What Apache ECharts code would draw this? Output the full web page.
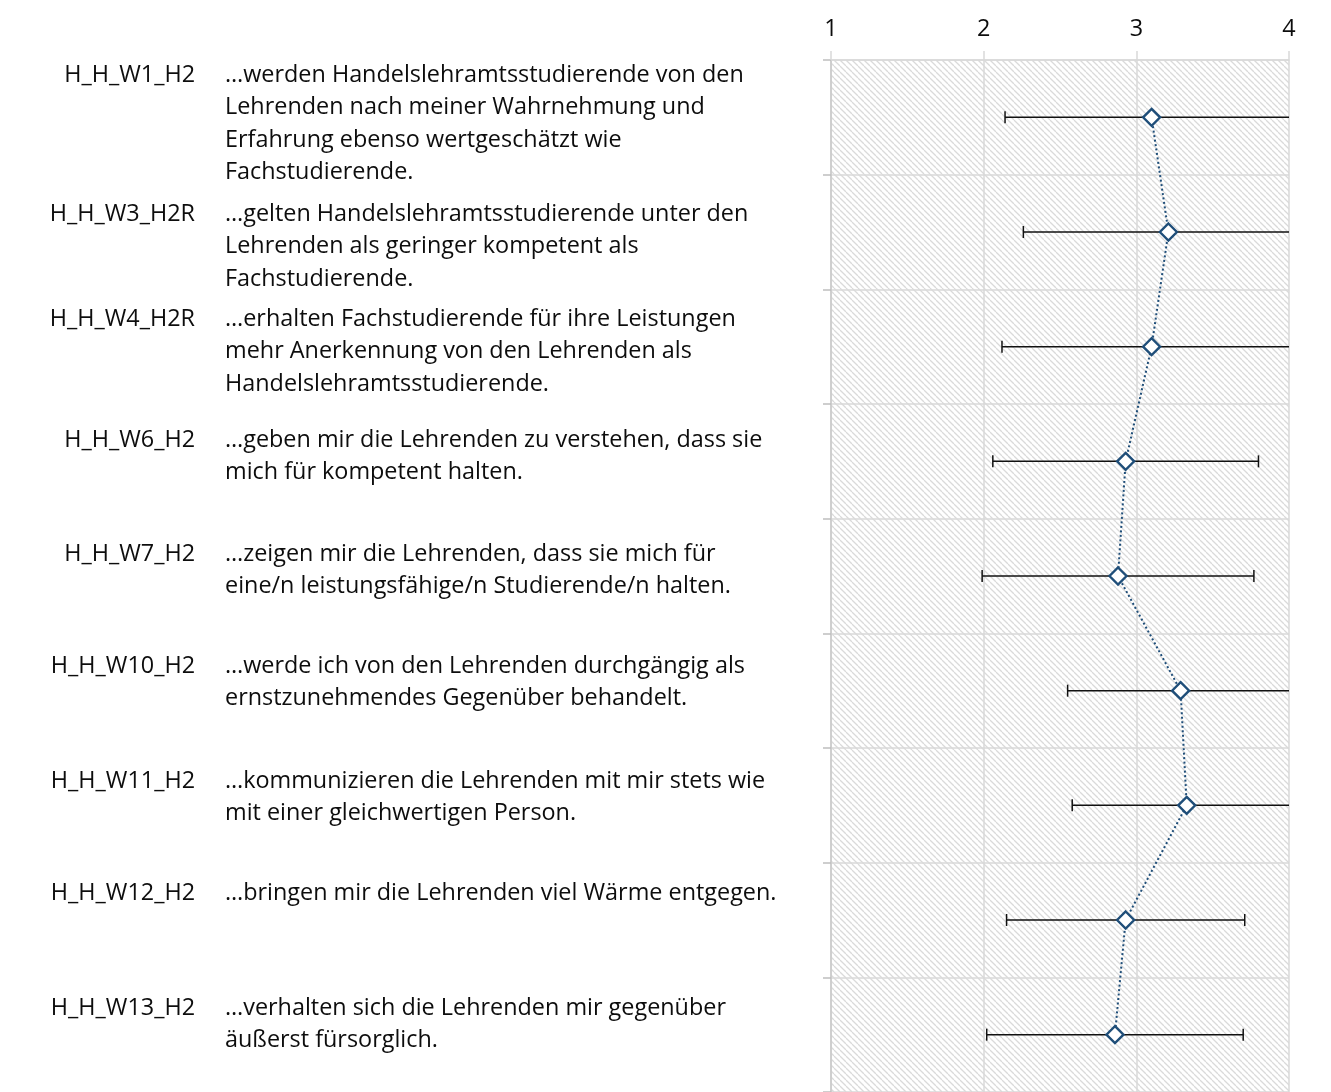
<!DOCTYPE html>
<html>
<head>
<meta charset="utf-8">
<title>Wertschätzung durch Lehrende</title>
<script src="https://cdn.jsdelivr.net/npm/echarts@6/dist/echarts.min.js"></script>
<style>
  html, body { margin: 0; padding: 0; background: #ffffff; }
  #chart { width: 1331px; height: 1092px; }
</style>
</head>
<body>
<div id="chart"></div>
<script>
// Item codes (one per row, top to bottom)
const categories = [
  'H_H_W1_H2', 'H_H_W3_H2R', 'H_H_W4_H2R', 'H_H_W6_H2', 'H_H_W7_H2',
  'H_H_W10_H2', 'H_H_W11_H2', 'H_H_W12_H2', 'H_H_W13_H2'
];

// Item wording, with the original line breaks
const statements = [
  '…werden Handelslehramtsstudierende von den\nLehrenden nach meiner Wahrnehmung und\nErfahrung ebenso wertgeschätzt wie\nFachstudierende.',
  '…gelten Handelslehramtsstudierende unter den\nLehrenden als geringer kompetent als\nFachstudierende.',
  '…erhalten Fachstudierende für ihre Leistungen\nmehr Anerkennung von den Lehrenden als\nHandelslehramtsstudierende.',
  '…geben mir die Lehrenden zu verstehen, dass sie\nmich für kompetent halten.',
  '…zeigen mir die Lehrenden, dass sie mich für\neine/n leistungsfähige/n Studierende/n halten.',
  '…werde ich von den Lehrenden durchgängig als\nernstzunehmendes Gegenüber behandelt.',
  '…kommunizieren die Lehrenden mit mir stets wie\nmit einer gleichwertigen Person.',
  '…bringen mir die Lehrenden viel Wärme entgegen.',
  '…verhalten sich die Lehrenden mir gegenüber\näußerst fürsorglich.'
];

// Mean and standard deviation per item
const means = [3.10, 3.21, 3.10, 2.93, 2.88, 3.29, 3.33, 2.93, 2.86];
const sds   = [0.96, 0.95, 0.98, 0.87, 0.89, 0.74, 0.75, 0.78, 0.84];

// Scale ticks
const xTicks = [1, 2, 3, 4];

// ---------- layout ----------
const FONT = '"Open Sans", "Noto Sans", sans-serif';
const FONT_SIZE = 23.4;
const LINE_H = 32.5;
const CODE_RIGHT_X = 195;
const TEXT_LEFT_X = 225;
// vertical centre of the first text line of each item block
const firstLineY = [75, 214, 319, 440, 554, 666, 781, 893, 1008];

const GRID_COLOR = '#d9d9d9';
const MARK_COLOR = '#1f4e79';

// light diagonal hatch used as plot background
function makeHatch() {
  const s = 6;
  const c = document.createElement('canvas');
  c.width = s; c.height = s;
  const ctx = c.getContext('2d');
  ctx.fillStyle = '#ffffff';
  ctx.fillRect(0, 0, s, s);
  ctx.strokeStyle = '#dadada';
  ctx.lineWidth = 1.25;
  for (const off of [-s, 0, s]) {
    ctx.beginPath();
    ctx.moveTo(off, 0);
    ctx.lineTo(off + s, s);
    ctx.stroke();
  }
  return { image: c, repeat: 'repeat' };
}

const chart = echarts.init(document.getElementById('chart'), null, { renderer: 'canvas' });

const textGraphics = [];
categories.forEach((code, i) => {
  const top = firstLineY[i] - LINE_H / 2;
  textGraphics.push({
    type: 'text',
    silent: true,
    style: {
      text: code, x: CODE_RIGHT_X, y: top,
      align: 'right', verticalAlign: 'top',
      font: FONT_SIZE + 'px ' + FONT, lineHeight: LINE_H, fill: '#0d0d0d'
    }
  });
  textGraphics.push({
    type: 'text',
    silent: true,
    style: {
      text: statements[i], x: TEXT_LEFT_X, y: top,
      align: 'left', verticalAlign: 'top',
      font: FONT_SIZE + 'px ' + FONT, lineHeight: LINE_H, fill: '#0d0d0d'
    }
  });
});

// horizontal error bar (mean ± sd), clipped at the plot edge
function renderErrorBar(params, api) {
  const m = api.value(0);
  const idx = api.value(1);
  const sd = api.value(2);
  const lo = api.coord([m - sd, idx]);
  const hi = api.coord([m + sd, idx]);
  const cs = params.coordSys;
  const xMin = cs.x, xMax = cs.x + cs.width;
  const x1 = Math.max(lo[0], xMin);
  const x2 = Math.min(hi[0], xMax);
  const y = lo[1];
  const capH = 6;
  const style = { stroke: '#111111', lineWidth: 1.5 };
  const children = [{
    type: 'line', shape: { x1: x1, y1: y, x2: x2, y2: y }, style: style
  }];
  if (lo[0] >= xMin) {
    children.push({ type: 'line', shape: { x1: lo[0], y1: y - capH, x2: lo[0], y2: y + capH }, style: style });
  }
  if (hi[0] <= xMax) {
    children.push({ type: 'line', shape: { x1: hi[0], y1: y - capH, x2: hi[0], y2: y + capH }, style: style });
  }
  return { type: 'group', children: children };
}

const option = {
  backgroundColor: '#ffffff',
  animation: false,
  textStyle: { fontFamily: FONT },
  grid: { left: 831, right: 42, top: 60, bottom: -7.5, containLabel: false },
  xAxis: {
    type: 'value',
    position: 'top',
    min: xTicks[0],
    max: xTicks[xTicks.length - 1],
    interval: 1,
    axisLine: { show: true, lineStyle: { color: GRID_COLOR, width: 1.5 } },
    axisTick: { show: true, length: 9, lineStyle: { color: GRID_COLOR, width: 1.5 } },
    axisLabel: { margin: 19, fontSize: FONT_SIZE, color: '#0d0d0d', fontFamily: FONT },
    splitLine: { show: true, lineStyle: { color: GRID_COLOR, width: 1.5 } }
  },
  yAxis: {
    type: 'category',
    inverse: true,
    data: categories,
    boundaryGap: true,
    axisLine: { show: true, lineStyle: { color: '#c8c8c8', width: 1.5 } },
    axisTick: { show: true, length: 8, lineStyle: { color: '#bfbfbf', width: 1.5 } },
    axisLabel: { show: false },
    splitLine: { show: true, lineStyle: { color: GRID_COLOR, width: 1.5 } },
    splitArea: { show: true, areaStyle: { color: [makeHatch()] } }
  },
  graphic: textGraphics,
  series: [
    {
      type: 'custom',
      name: 'SD',
      z: 3,
      renderItem: renderErrorBar,
      encode: { x: 0, y: 1 },
      data: means.map((m, i) => [m, i, sds[i]])
    },
    {
      type: 'line',
      name: 'Mittelwert',
      z: 4,
      data: means.map((m, i) => [m, categories[i]]),
      symbol: 'diamond',
      symbolSize: 17,
      showAllSymbol: true,
      lineStyle: { color: MARK_COLOR, width: 2, type: [2, 2.5] },
      itemStyle: { color: '#ffffff', borderColor: MARK_COLOR, borderWidth: 2.4 }
    }
  ]
};

chart.setOption(option);
</script>
</body>
</html>
